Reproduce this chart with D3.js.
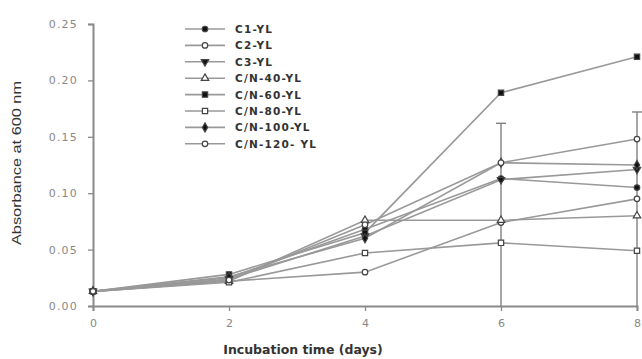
<!DOCTYPE html>
<html>
<head>
<meta charset="utf-8">
<script src="https://cdn.jsdelivr.net/npm/d3@7"></script>
<style>
  body { margin: 0; background: #fff; }
  text { font-family: "DejaVu Sans", Arial, sans-serif; }
</style>
</head>
<body>
<svg id="chart" width="642" height="359"></svg>
<script>
const days = [0, 2, 4, 6, 8];
const seriesNames = ["C1-YL", "C2-YL", "C3-YL", "C/N-40-YL", "C/N-60-YL", "C/N-80-YL", "C/N-100-YL", "C/N-120- YL"];
const c1 = [0.013, 0.025, 0.068, 0.113, 0.105];
const c2 = [0.013, 0.022, 0.030, 0.074, 0.095];
const c3 = [0.013, 0.024, 0.062, 0.112, 0.121];
const cn40 = [0.013, 0.022, 0.076, 0.076, 0.080];
const cn60 = [0.013, 0.028, 0.065, 0.189, 0.221];
const cn80 = [0.013, 0.021, 0.047, 0.056, 0.049];
const cn100 = [0.013, 0.026, 0.060, 0.127, 0.125];
const cn120 = [0.013, 0.023, 0.072, 0.127, 0.148];
const errDays = [6, 8];
const errLow = [0, 0];
const errHigh = [0.162, 0.172];
const yTicks = [0, 0.05, 0.10, 0.15, 0.20, 0.25];
const xTicks = [0, 2, 4, 6, 8];

let allSeries = [c1, c2, c3, cn40, cn60, cn80, cn100, cn120];
// marker style per series: [shape, filled]
let markers = [
  ["circle", true], ["circle", false], ["tridown", true], ["triup", false],
  ["square", true], ["square", false], ["diamond", true], ["circle", false]
];

let svg = d3.select("#chart");
let x = d3.scaleLinear().domain([0, 8]).range([93, 637]);
let y = d3.scaleLinear().domain([0, 0.25]).range([306, 24]);

let axisColor = "#8a8a8a";

// axes
let xAxis = svg.append("g").attr("transform", "translate(0,306)")
  .call(d3.axisBottom(x).tickValues(xTicks).tickFormat(d3.format("d")).tickSizeOuter(0).tickSize(5));
let yAxis = svg.append("g").attr("transform", "translate(93,0)")
  .call(d3.axisLeft(y).tickValues(yTicks).tickFormat(d3.format(".2f")).tickSizeOuter(0).tickSize(5));
[xAxis, yAxis].forEach(function(a) {
  a.select(".domain").attr("stroke", axisColor).attr("stroke-width", 2);
  a.selectAll(".tick line").attr("stroke", axisColor).attr("stroke-width", 1.3);
  a.selectAll(".tick text").attr("fill", "#888").style("font-size", "11px")
    .style("font-family", "DejaVu Sans");
});
xAxis.selectAll(".tick text").attr("dy", "1.2em");
yAxis.selectAll(".tick text").attr("x", -15).attr("letter-spacing", 1.2);

svg.append("text").attr("x", 303).attr("y", 354).attr("text-anchor", "middle")
  .attr("font-weight", "bold").attr("font-size", 12.5).attr("fill", "#333")
  .text("Incubation time (days)");
svg.append("text").attr("transform", "translate(21,163) rotate(-90)").attr("text-anchor", "middle")
  .attr("font-size", 12).attr("fill", "#333").attr("textLength", 164).attr("lengthAdjust", "spacingAndGlyphs")
  .style("font-family", "Liberation Sans, Arial")
  .text("Absorbance at 600 nm");

// error bars
errDays.forEach(function(d, i) {
  svg.append("line").attr("x1", x(d)).attr("x2", x(d)).attr("y1", y(errLow[i])).attr("y2", y(errHigh[i]))
    .attr("stroke", "#777").attr("stroke-width", 1.3);
  svg.append("line").attr("x1", x(d) - 5).attr("x2", x(d) + 5).attr("y1", y(errHigh[i])).attr("y2", y(errHigh[i]))
    .attr("stroke", "#777").attr("stroke-width", 1.3);
});

let line = d3.line().x(function(d, i) { return x(days[i]); }).y(function(d) { return y(d); });

let symbolFor = function(shape) {
  switch (shape) {
    case "circle": return d3.symbol().type(d3.symbolCircle).size(24);
    case "square": return d3.symbol().type(d3.symbolSquare).size(28);
    case "triup": return d3.symbol().type(d3.symbolTriangle).size(24);
    case "tridown": return d3.symbol().type(d3.symbolTriangle).size(24);
    case "diamond": return d3.symbol().type(d3.symbolDiamond).size(24);
  }
};

let drawMarker = function(g, cx, cy, m) {
  g.append("path").attr("d", symbolFor(m[0])())
    .attr("transform", "translate(" + cx + "," + cy + ")" + (m[0] === "tridown" ? " rotate(180)" : ""))
    .attr("fill", m[1] ? "#111" : "#fff").attr("stroke", "#444").attr("stroke-width", 1.2);
};

// lines
allSeries.forEach(function(s) {
  svg.append("path").datum(s).attr("d", line).attr("fill", "none")
    .attr("stroke", "#999").attr("stroke-width", 1.6);
});
// markers
allSeries.forEach(function(s, si) {
  s.forEach(function(v, i) { drawMarker(svg, x(days[i]), y(v), markers[si]); });
});

// legend
let legend = svg.append("g");
seriesNames.forEach(function(name, i) {
  let ly = 29 + i * 16.4;
  legend.append("line").attr("x1", 185).attr("x2", 225).attr("y1", ly).attr("y2", ly)
    .attr("stroke", "#999").attr("stroke-width", 1.6);
  drawMarker(legend, 205, ly, markers[i]);
  legend.append("text").attr("x", 235).attr("y", ly + 4).attr("font-size", 10.5).attr("font-weight", "bold")
    .attr("letter-spacing", 1.2).attr("fill", "#333").text(name);
});
</script>
</body>
</html>
